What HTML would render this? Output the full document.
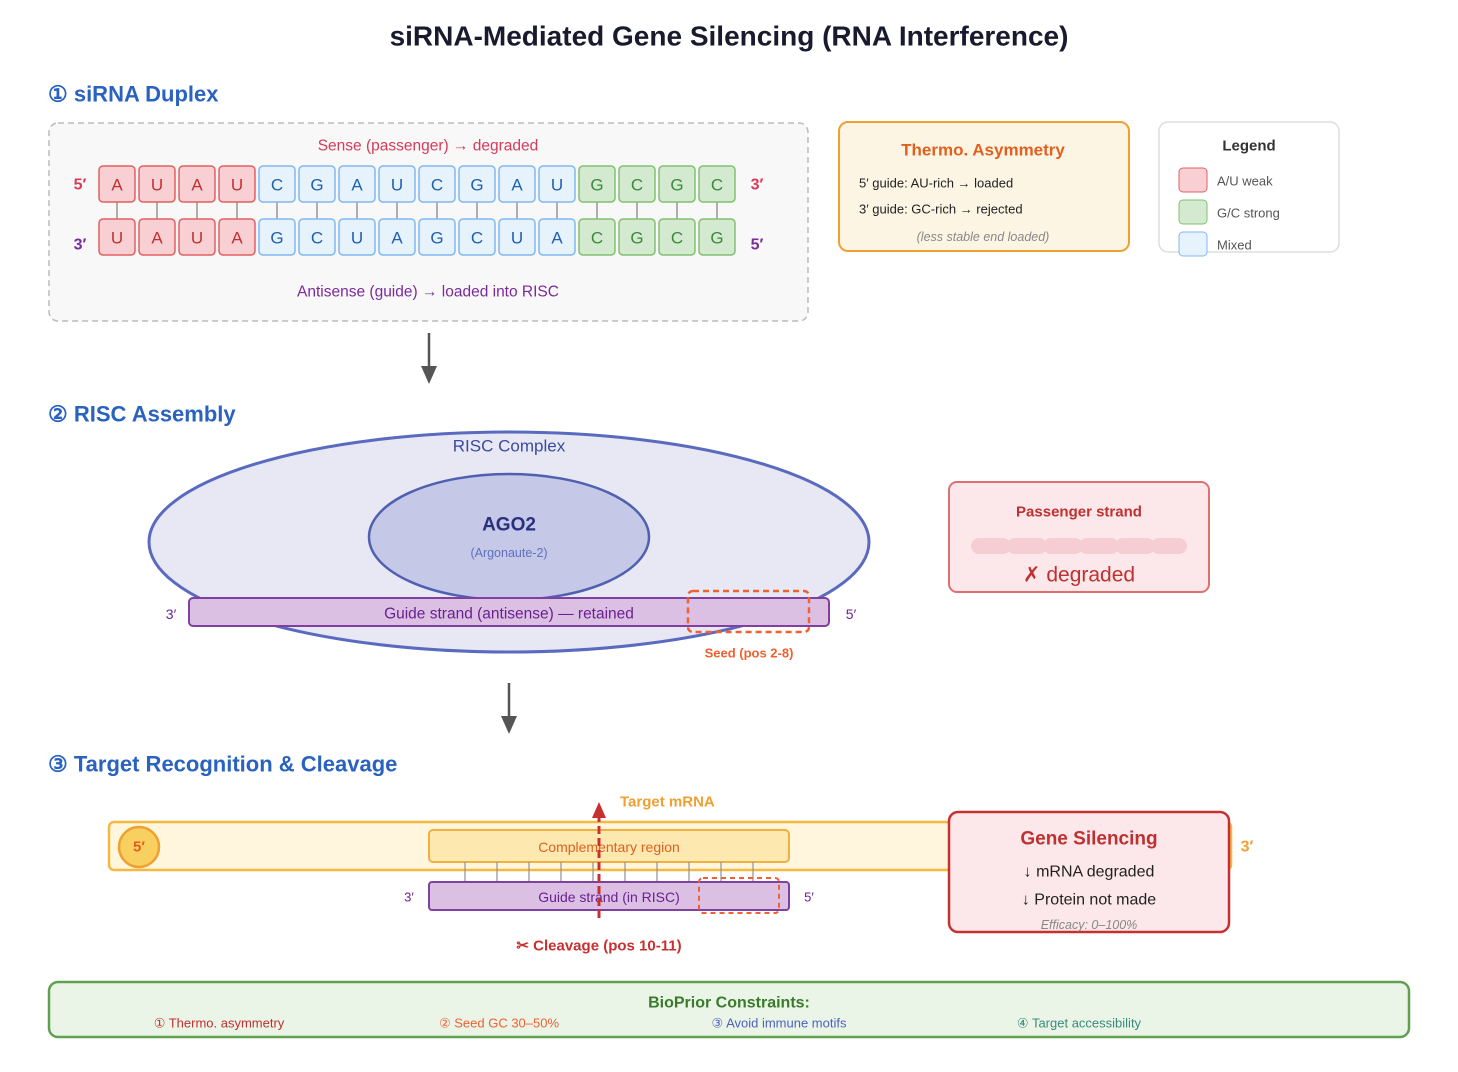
<!DOCTYPE html>
<html><head><meta charset="utf-8"><style>
html,body{margin:0;padding:0;background:#fff}
svg{display:block;font-family:"Liberation Sans",Arial,sans-serif}
</style></head><body>
<svg width="1458" height="1072" viewBox="0 0 1458 1072" xmlns="http://www.w3.org/2000/svg">
<g dominant-baseline="central">
<text x="729" y="36" text-anchor="middle" font-size="28" font-weight="bold" fill="#1a1a2e">siRNA-Mediated Gene Silencing (RNA Interference)</text>
<text x="48" y="94" font-size="22" font-weight="bold" fill="#2a62c0">① siRNA Duplex</text>

<rect x="49" y="123" width="759" height="198" rx="9" fill="#f8f8f8" stroke="#bbb" stroke-width="1.5" stroke-dasharray="6,4"/>
<text x="428" y="146" text-anchor="middle" font-size="15.5" fill="#d63a5a">Sense (passenger) → degraded</text>
<text x="80" y="185" text-anchor="middle" font-size="16" font-weight="bold" fill="#d63a5a">5′</text>
<text x="757" y="185" text-anchor="middle" font-size="16" font-weight="bold" fill="#d63a5a">3′</text>
<text x="80" y="245" text-anchor="middle" font-size="16" font-weight="bold" fill="#7a2a9a">3′</text>
<text x="757" y="245" text-anchor="middle" font-size="16" font-weight="bold" fill="#7a2a9a">5′</text>
<g stroke="#888" stroke-width="1.3">
<path d="M117 202V219M157 202V219M197 202V219M237 202V219M277 202V219M317 202V219M357 202V219M397 202V219M437 202V219M477 202V219M517 202V219M557 202V219M597 202V219M637 202V219M677 202V219M717 202V219"/>
</g>
<g stroke-width="1.5">
<g fill="#f8d0d4" stroke="#e06060">
<rect x="99" y="166" width="36" height="36" rx="4"/><rect x="139" y="166" width="36" height="36" rx="4"/><rect x="179" y="166" width="36" height="36" rx="4"/><rect x="219" y="166" width="36" height="36" rx="4"/>
<rect x="99" y="219" width="36" height="36" rx="4"/><rect x="139" y="219" width="36" height="36" rx="4"/><rect x="179" y="219" width="36" height="36" rx="4"/><rect x="219" y="219" width="36" height="36" rx="4"/>
</g>
<g fill="#e6f2fc" stroke="#80b8f0">
<rect x="259" y="166" width="36" height="36" rx="4"/><rect x="299" y="166" width="36" height="36" rx="4"/><rect x="339" y="166" width="36" height="36" rx="4"/><rect x="379" y="166" width="36" height="36" rx="4"/><rect x="419" y="166" width="36" height="36" rx="4"/><rect x="459" y="166" width="36" height="36" rx="4"/><rect x="499" y="166" width="36" height="36" rx="4"/><rect x="539" y="166" width="36" height="36" rx="4"/>
<rect x="259" y="219" width="36" height="36" rx="4"/><rect x="299" y="219" width="36" height="36" rx="4"/><rect x="339" y="219" width="36" height="36" rx="4"/><rect x="379" y="219" width="36" height="36" rx="4"/><rect x="419" y="219" width="36" height="36" rx="4"/><rect x="459" y="219" width="36" height="36" rx="4"/><rect x="499" y="219" width="36" height="36" rx="4"/><rect x="539" y="219" width="36" height="36" rx="4"/>
</g>
<g fill="#d4ead0" stroke="#80c070">
<rect x="579" y="166" width="36" height="36" rx="4"/><rect x="619" y="166" width="36" height="36" rx="4"/><rect x="659" y="166" width="36" height="36" rx="4"/><rect x="699" y="166" width="36" height="36" rx="4"/>
<rect x="579" y="219" width="36" height="36" rx="4"/><rect x="619" y="219" width="36" height="36" rx="4"/><rect x="659" y="219" width="36" height="36" rx="4"/><rect x="699" y="219" width="36" height="36" rx="4"/>
</g>
</g>
<g font-size="17" text-anchor="middle">
<g fill="#c03030"><text x="117" y="185">A</text><text x="157" y="185">U</text><text x="197" y="185">A</text><text x="237" y="185">U</text>
<text x="117" y="238">U</text><text x="157" y="238">A</text><text x="197" y="238">U</text><text x="237" y="238">A</text></g>
<g fill="#2060b0"><text x="277" y="185">C</text><text x="317" y="185">G</text><text x="357" y="185">A</text><text x="397" y="185">U</text><text x="437" y="185">C</text><text x="477" y="185">G</text><text x="517" y="185">A</text><text x="557" y="185">U</text>
<text x="277" y="238">G</text><text x="317" y="238">C</text><text x="357" y="238">U</text><text x="397" y="238">A</text><text x="437" y="238">G</text><text x="477" y="238">C</text><text x="517" y="238">U</text><text x="557" y="238">A</text></g>
<g fill="#3a8a3a"><text x="597" y="185">G</text><text x="637" y="185">C</text><text x="677" y="185">G</text><text x="717" y="185">C</text>
<text x="597" y="238">C</text><text x="637" y="238">G</text><text x="677" y="238">C</text><text x="717" y="238">G</text></g>
</g>
<text x="428" y="292" text-anchor="middle" font-size="15.5" fill="#7a2a9a">Antisense (guide) → loaded into RISC</text>

<rect x="839" y="122" width="290" height="129" rx="9" fill="#fdf5e4" stroke="#f0a030" stroke-width="2"/>
<text x="983" y="150" text-anchor="middle" font-size="17" font-weight="bold" fill="#e06020">Thermo. Asymmetry</text>
<text x="859" y="183" font-size="13" fill="#222">5′ guide: AU-rich → loaded</text>
<text x="859" y="209" font-size="13" fill="#222">3′ guide: GC-rich → rejected</text>
<text x="983" y="237" text-anchor="middle" font-size="12.5" font-style="italic" fill="#888">(less stable end loaded)</text>

<rect x="1159" y="122" width="180" height="130" rx="9" fill="#fff" stroke="#ddd" stroke-width="1.5"/>
<text x="1249" y="146" text-anchor="middle" font-size="15" font-weight="bold" fill="#333">Legend</text>
<rect x="1179" y="168" width="28" height="24" rx="4" fill="#f8d0d4" stroke="#e06060"/>
<rect x="1179" y="200" width="28" height="24" rx="4" fill="#d4ead0" stroke="#80c070"/>
<rect x="1179" y="232" width="28" height="24" rx="4" fill="#e6f2fc" stroke="#80b8f0"/>
<text x="1217" y="181" font-size="13" fill="#555">A/U weak</text>
<text x="1217" y="213" font-size="13" fill="#555">G/C strong</text>
<text x="1217" y="245" font-size="13" fill="#555">Mixed</text>

<line x1="429" y1="333" x2="429" y2="368" stroke="#555" stroke-width="2.5"/>
<path d="M421 366 L429 384 L437 366 z" fill="#555"/>

<text x="48" y="414" font-size="22" font-weight="bold" fill="#2a62c0">② RISC Assembly</text>
<ellipse cx="509" cy="542" rx="360" ry="110" fill="#e8e8f4" stroke="#5a6abf" stroke-width="3"/>
<text x="509" y="446" text-anchor="middle" font-size="17" fill="#3a4aa0">RISC Complex</text>
<ellipse cx="509" cy="537" rx="140" ry="63" fill="#c5c8e6" stroke="#5060b0" stroke-width="2.5"/>
<text x="509" y="525" text-anchor="middle" font-size="19" font-weight="bold" fill="#2a3080">AGO2</text>
<text x="509" y="553" text-anchor="middle" font-size="12.5" fill="#6070c0">(Argonaute-2)</text>
<rect x="189" y="598" width="640" height="28" rx="4" fill="#dcc0e4" stroke="#8040a0" stroke-width="2"/>
<text x="509" y="614" text-anchor="middle" font-size="15.5" fill="#6a2090">Guide strand (antisense) — retained</text>
<text x="171" y="614" text-anchor="middle" font-size="14" fill="#6a2090">3′</text>
<text x="851" y="614" text-anchor="middle" font-size="14" fill="#6a2090">5′</text>
<rect x="688" y="591" width="121" height="41" rx="5" fill="none" stroke="#f06030" stroke-width="2.5" stroke-dasharray="6,4"/>
<text x="749" y="653" text-anchor="middle" font-size="13" font-weight="bold" fill="#f06030">Seed (pos 2-8)</text>

<rect x="949" y="482" width="260" height="110" rx="8" fill="#fce8ea" stroke="#e07070" stroke-width="2"/>
<text x="1079" y="512" text-anchor="middle" font-size="15" font-weight="bold" fill="#c03030">Passenger strand</text>
<g fill="#f5cdd2"><rect x="971" y="538" width="40" height="16" rx="8"/><rect x="1007" y="538" width="40" height="16" rx="8"/><rect x="1043" y="538" width="40" height="16" rx="8"/><rect x="1079" y="538" width="40" height="16" rx="8"/><rect x="1115" y="538" width="40" height="16" rx="8"/><rect x="1151" y="538" width="36" height="16" rx="8"/></g>
<text x="1079" y="575" text-anchor="middle" font-size="21" fill="#c03030">✗ degraded</text>

<line x1="509" y1="683" x2="509" y2="718" stroke="#555" stroke-width="2.5"/>
<path d="M501 716 L509 734 L517 716 z" fill="#555"/>

<text x="48" y="764" font-size="22" font-weight="bold" fill="#2a62c0">③ Target Recognition &amp; Cleavage</text>
<rect x="109" y="822" width="1122" height="48" rx="5" fill="#fff6dd" stroke="#f5b840" stroke-width="2.5"/>
<text x="1247" y="847" text-anchor="middle" font-size="16" font-weight="bold" fill="#f0a030">3′</text>
<circle cx="139" cy="847" r="20" fill="#f8d060" stroke="#f0a030" stroke-width="2.5"/>
<text x="139" y="847" text-anchor="middle" font-size="15" font-weight="bold" fill="#e06020">5′</text>
<rect x="429" y="830" width="360" height="32" rx="4" fill="#fde9b0" stroke="#f0b040" stroke-width="2"/>
<text x="609" y="847" text-anchor="middle" font-size="14" fill="#e06020">Complementary region</text>
<path d="M465 862V882M497 862V882M529 862V882M561 862V882M593 862V882M625 862V882M657 862V882M689 862V882M721 862V882M753 862V882" stroke="#999" stroke-width="1.3"/>
<rect x="429" y="882" width="360" height="28" rx="3" fill="#dcc0e4" stroke="#8040a0" stroke-width="2"/>
<text x="609" y="897" text-anchor="middle" font-size="14" fill="#6a2090">Guide strand (in RISC)</text>
<text x="409" y="897" text-anchor="middle" font-size="13" fill="#6a2090">3′</text>
<text x="809" y="897" text-anchor="middle" font-size="13" fill="#6a2090">5′</text>
<rect x="699" y="878" width="80" height="35" rx="4" fill="none" stroke="#f06030" stroke-width="2" stroke-dasharray="5,4"/>
<line x1="599" y1="918" x2="599" y2="816" stroke="#c83030" stroke-width="3" stroke-dasharray="8,4"/>
<path d="M592 818 L599 802 L606 818 z" fill="#c83030"/>
<text x="620" y="802" font-size="15" font-weight="bold" fill="#f0a030">Target mRNA</text>
<text x="599" y="946" text-anchor="middle" font-size="15" font-weight="bold" fill="#c83030">✂ Cleavage (pos 10-11)</text>

<rect x="949" y="812" width="280" height="120" rx="9" fill="#fce8ea" stroke="#c83030" stroke-width="2.5"/>
<text x="1089" y="839" text-anchor="middle" font-size="19" font-weight="bold" fill="#c03030">Gene Silencing</text>
<text x="1089" y="872" text-anchor="middle" font-size="16" fill="#222">↓ mRNA degraded</text>
<text x="1089" y="900" text-anchor="middle" font-size="16" fill="#222">↓ Protein not made</text>
<text x="1089" y="925" text-anchor="middle" font-size="12.5" font-style="italic" fill="#888">Efficacy: 0–100%</text>

<rect x="49" y="982" width="1360" height="55" rx="9" fill="#eaf5e8" stroke="#60a050" stroke-width="2.5"/>
<text x="729" y="1003" text-anchor="middle" font-size="16" font-weight="bold" fill="#3a7a2a">BioPrior Constraints:</text>
<text x="219" y="1023" text-anchor="middle" font-size="13" fill="#c03030">① Thermo. asymmetry</text>
<text x="499" y="1023" text-anchor="middle" font-size="13" fill="#f06030">② Seed GC 30–50%</text>
<text x="779" y="1023" text-anchor="middle" font-size="13" fill="#5060c0">③ Avoid immune motifs</text>
<text x="1079" y="1023" text-anchor="middle" font-size="13" fill="#3a8a7a">④ Target accessibility</text>
</g>
</svg>
</body></html>
